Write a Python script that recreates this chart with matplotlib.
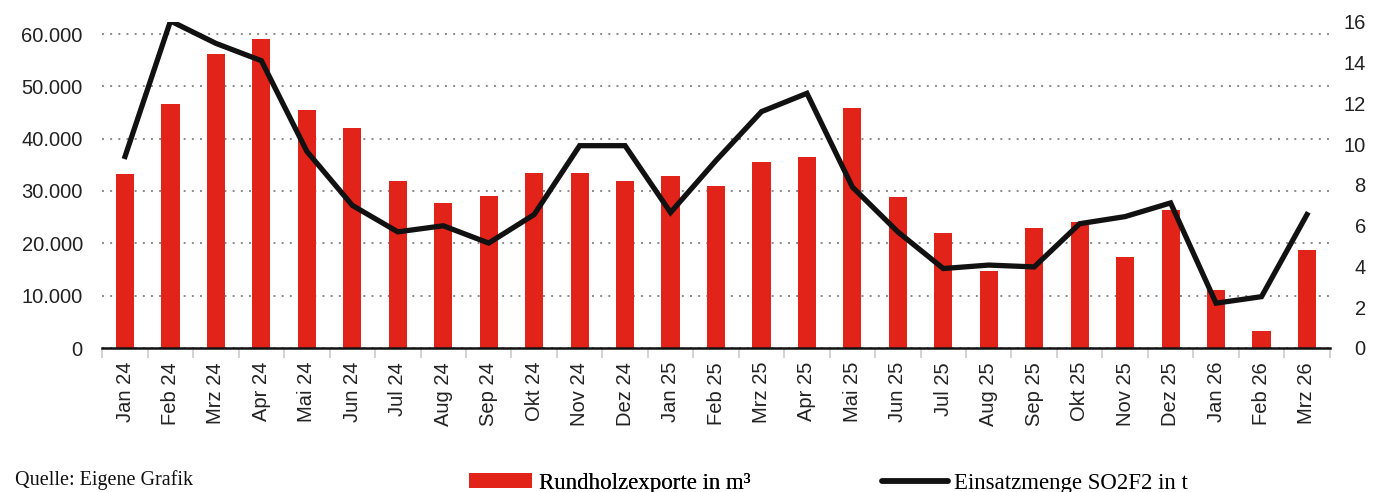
import matplotlib
matplotlib.use('Agg')
import matplotlib.pyplot as plt
from matplotlib.patches import Patch
from matplotlib.lines import Line2D
from matplotlib.ticker import FuncFormatter
import numpy as np

# Monate (Jan 24 bis Mrz 26)
months = ['Jan 24', 'Feb 24', 'Mrz 24', 'Apr 24', 'Mai 24', 'Jun 24', 'Jul 24',
          'Aug 24', 'Sep 24', 'Okt 24', 'Nov 24', 'Dez 24', 'Jan 25', 'Feb 25',
          'Mrz 25', 'Apr 25', 'Mai 25', 'Jun 25', 'Jul 25', 'Aug 25', 'Sep 25',
          'Okt 25', 'Nov 25', 'Dez 25', 'Jan 26', 'Feb 26', 'Mrz 26']

# Rundholzexporte in m3 (linke Achse)
exports = [33300, 46600, 56100, 59100, 45400, 42000, 31900, 27800, 29000,
           33500, 33400, 32000, 32800, 31000, 35500, 36500, 45800, 28800,
           21900, 14700, 22900, 24100, 17400, 26400, 11100, 3250, 18700]

# Einsatzmenge SO2F2 in t (rechte Achse)
so2f2 = [9.4, 16.05, 14.95, 14.1, 9.65, 7.0, 5.7, 6.0, 5.15, 6.55, 9.93, 9.93,
         6.65, 9.2, 11.6, 12.5, 7.9, 5.7, 3.9, 4.07, 3.98, 6.1, 6.45, 7.12,
         2.2, 2.52, 6.55]

left_ticks = [0, 10000, 20000, 30000, 40000, 50000, 60000]
right_ticks = [0, 2, 4, 6, 8, 10, 12, 14, 16]

RED = '#e2231a'
W, H = 1382, 492
sans = 'Liberation Sans'
serif = 'Liberation Serif'

fig = plt.figure(figsize=(W / 100, H / 100), dpi=100)
ax = fig.add_axes([102.3 / W, 1 - 348 / H, (1329.7 - 102.3) / W, (348 - 22) / H])
ax2 = ax.twinx()

x = np.arange(len(months))
ax.bar(x, exports, width=0.4, color=RED, zorder=2)
ax2.plot(x, so2f2, color='#111111', linewidth=3.8, solid_joinstyle='miter', zorder=3)

ax.set_xlim(-0.5, len(months) - 0.5)
ax.set_ylim(0, 60000 * 326 / 314)
ax2.set_ylim(0, 16)

ax.set_yticks(left_ticks)
ax.yaxis.set_major_formatter(FuncFormatter(lambda v, p: f'{int(v):,}'.replace(',', '.')))
ax.grid(axis='y', linestyle=(0, (1, 3.2)), color='#8a8a8a', linewidth=1.4, zorder=0)
ax.set_axisbelow(True)
ax.tick_params(axis='y', length=0, pad=14)
for lab in ax.get_yticklabels():
    lab.set_fontfamily(sans)
    lab.set_fontsize(14.5)
    lab.set_color('#222222')

ax2.set_yticks(right_ticks)
ax2.tick_params(axis='y', length=0, pad=26)
for lab in ax2.get_yticklabels():
    lab.set_horizontalalignment('right')
    lab.set_fontfamily(sans)
    lab.set_fontsize(14.5)
    lab.set_color('#222222')

ax.set_xticks(x)
ax.set_xticklabels(months, rotation=90, fontsize=14.5, family=sans, color='#222222')
ax.tick_params(axis='x', which='major', length=0, pad=10)
ax.set_xticks(np.arange(-0.5, len(months)), minor=True)
ax.tick_params(axis='x', which='minor', length=7, width=1.2, color='#cccccc')

for a in (ax, ax2):
    for s in ('top', 'left', 'right'):
        a.spines[s].set_visible(False)
ax2.spines['bottom'].set_visible(False)
ax.spines['bottom'].set_linewidth(1.8)
ax.spines['bottom'].set_color('#111111')

fig.text(15 / W, 1 - 480 / H, 'Quelle: Eigene Grafik', fontsize=14.5,
         family=serif, va='center', ha='left', color='#111111')

# zwei Legenden, jeweils links verankert
leg_kw = dict(loc='center left', frameon=False, prop={'family': serif, 'size': 16.5},
              handleheight=0.61, borderaxespad=0, borderpad=0)
leg1 = fig.legend([Patch(facecolor=RED, edgecolor='none')], ['Rundholzexporte in m³'],
                  bbox_to_anchor=(469 / W, 1 - 483 / H), handlelength=2.75,
                  handletextpad=0.3, **leg_kw)
fig.add_artist(leg1)
fig.legend([Line2D([], [], color='#111111', linewidth=4.2, solid_capstyle='round')],
           ['Einsatzmenge SO2F2 in t'], bbox_to_anchor=(882 / W, 1 - 483 / H),
           handlelength=2.9, handletextpad=0.25, **leg_kw)

fig.savefig('out.png', dpi=100)
